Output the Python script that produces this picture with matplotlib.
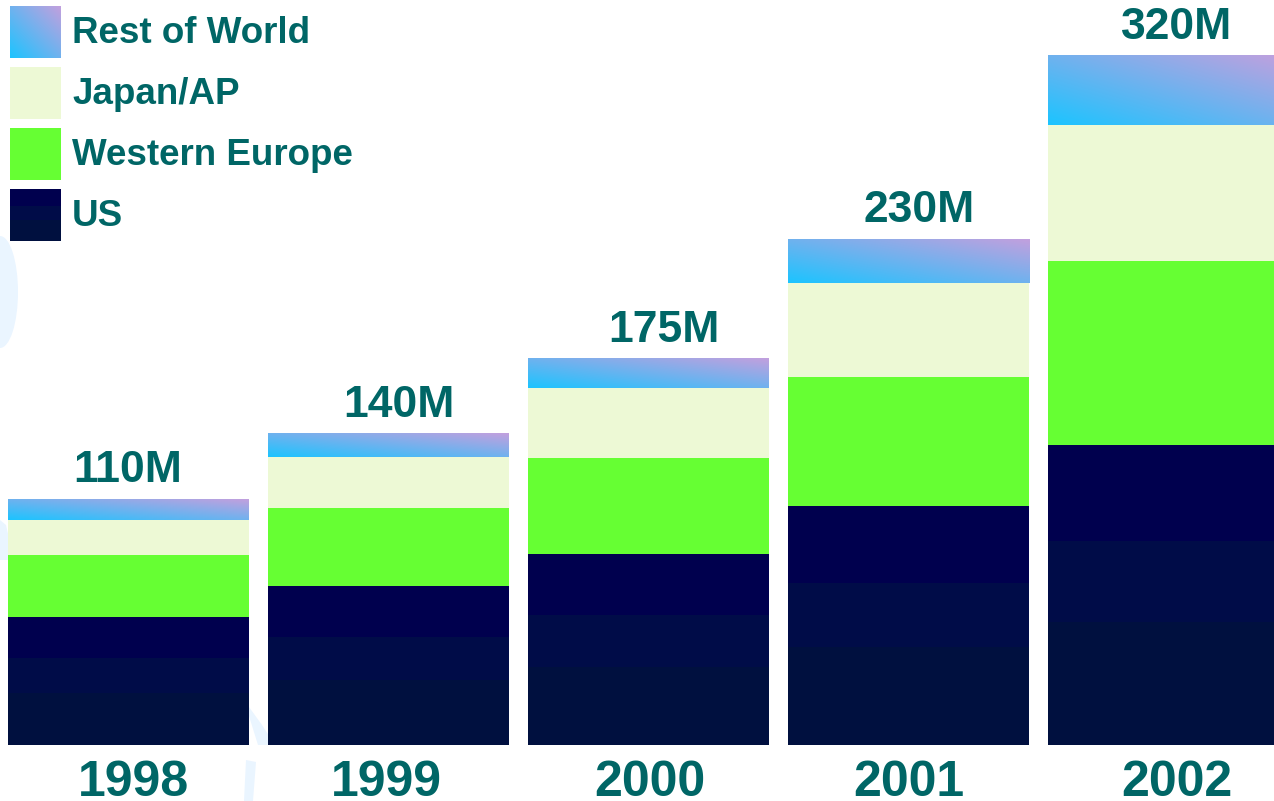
import numpy as np
import matplotlib
matplotlib.use("Agg")
import matplotlib.pyplot as plt
from matplotlib.patches import Rectangle, Ellipse, Polygon

plt.rcParams['font.family'] = ['Liberation Sans', 'DejaVu Sans']

# data (millions of units)
years = ['1998', '1999', '2000', '2001', '2002']
totals = ['110M', '140M', '175M', '230M', '320M']
us = [58.2, 72.3, 86.8, 108.6, 136.4]
western_europe = [28.2, 35.5, 43.6, 58.6, 83.6]
japan_ap = [15.9, 23.2, 31.8, 42.7, 61.8]
rest_of_world = [9.5, 10.5, 13.2, 20.0, 31.4]
legend_labels = ['Rest of World', 'Japan/AP', 'Western Europe', 'US']

teal = '#006666'
us_bands = ['#00004e', '#000c48', '#00103f']   # top -> bottom
we_color = '#66ff33'
jp_color = '#edf9d5'
row_c0 = np.array([0x1c, 0xc4, 0xff]) / 255.0   # cyan, bottom-left
row_c1 = np.array([0xc2, 0xa0, 0xde]) / 255.0   # lavender, top-right

# small horizontal nudges of the labels (pixels), as in the original slide
year_dx = [5, -2, 1, 0, 8]
total_dx = [-1, 10, 15, 11, 8]


def row_gradient(n=60):
    xn = np.linspace(0, 1, n)
    yn = np.linspace(0, 1, n)
    X, Y = np.meshgrid(xn, yn)
    t = ((X + Y) / 2)[..., None]
    return row_c0 * (1 - t) + row_c1 * t


W, H = 1274, 801
fig = plt.figure(figsize=(W / 100, H / 100), dpi=100)

# background / legend layer in pixel coords
bg = fig.add_axes([0, 0, 1, 1])
bg.set_xlim(0, W)
bg.set_ylim(H, 0)
bg.axis('off')

# faint decoration
deco = '#eaf5ff'
bg.add_patch(Ellipse((0, 292), 36, 112, color=deco, lw=0))
bg.add_patch(Polygon([[0, 520], [6, 525], [14, 560], [0, 560]], color=deco, lw=0))
bg.add_patch(Polygon([[244, 700], [262, 725], [275, 745], [258, 745]], color=deco, lw=0))
bg.add_patch(Polygon([[246, 760], [256, 762], [253, 801], [244, 801]], color=deco, lw=0))

# main axes
ax = fig.add_axes([0, 0, 1, 1])
ax.patch.set_alpha(0)
ax.axis('off')

k = 2.2  # px per unit
x = np.arange(len(years))
pitch = 260.0
xmin = -128.5 / pitch
xmax = xmin + W / pitch
ymin = -56 / k
ymax = ymin + H / k
bw = 241 / pitch

us_arr = np.array(us)
we_arr = np.array(western_europe)
jp_arr = np.array(japan_ap)
row_arr = np.array(rest_of_world)

# US with three bands
fr = [0.41, 0.27, 0.32]  # bottom, middle, top
bot = np.zeros(len(years))
for f, c in zip(fr, us_bands[::-1]):
    ax.bar(x, us_arr * f, bw, bottom=bot, color=c, lw=0, zorder=2)
    bot = bot + us_arr * f
ax.bar(x, we_arr, bw, bottom=us_arr, color=we_color, lw=0, zorder=2)
ax.bar(x, jp_arr, bw, bottom=us_arr + we_arr, color=jp_color, lw=0, zorder=2)

grad = row_gradient()
base = us_arr + we_arr + jp_arr
for i in range(len(years)):
    ax.imshow(grad, extent=(x[i] - bw / 2, x[i] + bw / 2, base[i], base[i] + row_arr[i]),
              origin='lower', aspect='auto', interpolation='bilinear', zorder=2)
    top = base[i] + row_arr[i]
    ax.text(x[i] + total_dx[i] / pitch, top + 17 / k, totals[i], ha='center',
            va='baseline', fontsize=32, fontweight='bold', color=teal, zorder=3)
    ax.text(x[i] + year_dx[i] / pitch, ymin + 5 / k, years[i], ha='center',
            va='baseline', fontsize=36, fontweight='bold', color=teal, zorder=3)

ax.set_xlim(xmin, xmax)
ax.set_ylim(ymin, ymax)

# legend
sw_x, sw_w, sw_h = 10, 51, 52
tops = [6, 67, 128, 189]
for lab, ty in zip(legend_labels, tops):
    if lab == 'Rest of World':
        bg.imshow(grad, extent=(sw_x, sw_x + sw_w, ty + sw_h, ty), origin='lower',
                  aspect='auto', interpolation='bilinear')
    elif lab == 'US':
        hs = [0.32, 0.27, 0.41]
        yy = ty
        for h, c in zip(hs, us_bands):
            bg.add_patch(Rectangle((sw_x, yy), sw_w, sw_h * h, color=c, lw=0))
            yy += sw_h * h
    else:
        c = jp_color if lab == 'Japan/AP' else we_color
        bg.add_patch(Rectangle((sw_x, ty), sw_w, sw_h, color=c, lw=0))
    bg.text(72, ty + 37, lab, ha='left', va='baseline', fontsize=26.5,
            fontweight='bold', color=teal)
bg.set_xlim(0, W)
bg.set_ylim(H, 0)

fig.savefig('out.png', dpi=100, facecolor='white')
